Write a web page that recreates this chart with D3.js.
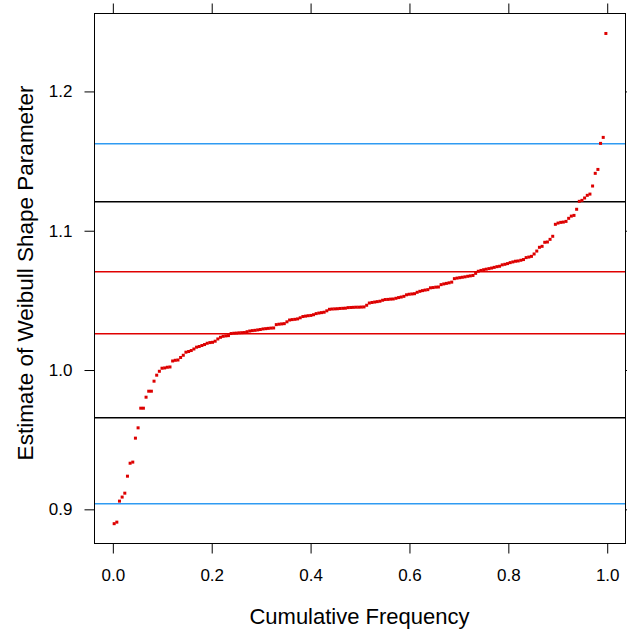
<!DOCTYPE html>
<html>
<head>
<meta charset="utf-8">
<script src="https://cdn.jsdelivr.net/npm/d3@7"></script>
<style>
  body { margin: 0; background: #fff; }
  text { font-family: "Liberation Sans", Arial, Helvetica, sans-serif; fill: #000; }
</style>
</head>
<body>
<div id="chart"><svg></svg></div>
<script>

// sorted estimates of the shape parameter (one per simulation run)
var estimates = [
  0.8897, 0.8908, 0.9059, 0.9088, 0.9116, 0.9238, 0.9331, 0.9339, 0.9511, 0.9585,
  0.9726, 0.9726, 0.9805, 0.9848, 0.9848, 0.9920, 0.9963, 0.9991, 1.0013, 1.0015,
  1.0020, 1.0022, 1.0065, 1.0070, 1.0072, 1.0090, 1.0106, 1.0128, 1.0133, 1.0140,
  1.0151, 1.0164, 1.0169, 1.0176, 1.0183, 1.0192, 1.0197, 1.0199, 1.0207, 1.0223,
  1.0235, 1.0242, 1.0245, 1.0247, 1.0262, 1.0264, 1.0265, 1.0267, 1.0268, 1.0269,
  1.0275, 1.0280, 1.0283, 1.0285, 1.0288, 1.0291, 1.0295, 1.0297, 1.0299, 1.0301,
  1.0302, 1.0326, 1.0329, 1.0331, 1.0333, 1.0346, 1.0359, 1.0362, 1.0364, 1.0367,
  1.0375, 1.0384, 1.0387, 1.0390, 1.0392, 1.0397, 1.0405, 1.0409, 1.0412, 1.0415,
  1.0425, 1.0436, 1.0438, 1.0439, 1.0440, 1.0442, 1.0443, 1.0444, 1.0448, 1.0449,
  1.0450, 1.0451, 1.0451, 1.0452, 1.0453, 1.0465, 1.0481, 1.0485, 1.0488, 1.0491,
  1.0494, 1.0501, 1.0506, 1.0507, 1.0509, 1.0510, 1.0515, 1.0520, 1.0524, 1.0529,
  1.0540, 1.0544, 1.0546, 1.0548, 1.0558, 1.0565, 1.0570, 1.0574, 1.0577, 1.0590,
  1.0592, 1.0595, 1.0596, 1.0613, 1.0618, 1.0622, 1.0626, 1.0631, 1.0656, 1.0660,
  1.0663, 1.0666, 1.0669, 1.0673, 1.0676, 1.0679, 1.0694, 1.0709, 1.0715, 1.0720,
  1.0724, 1.0728, 1.0732, 1.0737, 1.0742, 1.0745, 1.0755, 1.0759, 1.0764, 1.0771,
  1.0776, 1.0781, 1.0783, 1.0788, 1.0793, 1.0807, 1.0811, 1.0816, 1.0833, 1.0854,
  1.0881, 1.0888, 1.0917, 1.0919, 1.0938, 1.0960, 1.1046, 1.1055, 1.1060, 1.1062,
  1.1067, 1.1089, 1.1105, 1.1110, 1.1154, 1.1211, 1.1218, 1.1235, 1.1254, 1.1263,
  1.1321, 1.1412, 1.1440, 1.1627, 1.1670, 1.2416
];

// reference lines (lower, upper) for each pair
var redLines = [1.0264, 1.0711];
var blackLines = [0.9664, 1.1213];
var blueLines = [0.9044, 1.1629];

var xTicks = [0, 0.2, 0.4, 0.6, 0.8, 1.0];
var yTicks = [0.9, 1.0, 1.1, 1.2];

var width = 627, height = 633;
var pLeft = 94.5, pRight = 625.5, pTop = 13.5, pBottom = 543.5;

var svg = d3.select("#chart svg")
    .attr("width", width)
    .attr("height", height);

var x = d3.scaleLinear()
    .domain([-0.0371, 1.0370])
    .range([pLeft, pRight]);

var y = d3.scaleLinear()
    .domain([0.87547, 1.25594])
    .range([pBottom, pTop]);

var n = estimates.length;
var data = estimates.map(function(v, i) { return {p: (i + 0.5) / n, v: v}; });

// horizontal reference lines, drawn as thin filled bands so the colour stays crisp
function hlines(vals, color) {
    svg.append("g").selectAll("rect")
        .data(vals)
      .enter().append("rect")
        .attr("x", pLeft)
        .attr("width", pRight - pLeft)
        .attr("y", function(d) { return Math.round(y(d)); })
        .attr("height", 1.5)
        .style("fill", color)
        .style("stroke", "none");
}
hlines(blueLines, "#2f9bf2");
hlines(blackLines, "#000000");
hlines(redLines, "#e00000");

// points
svg.append("g").selectAll("rect")
    .data(data)
  .enter().append("rect")
    .attr("x", function(d) { return x(d.p) - 1.5; })
    .attr("y", function(d) { return y(d.v) - 1.5; })
    .attr("width", 3)
    .attr("height", 3)
    .style("fill", "#dd0000");

// axes, ticks on all four sides, labels on left and bottom
var fmt = d3.format(".1f");
var tk = 10;

svg.append("g")
    .attr("transform", "translate(0," + pBottom + ")")
    .call(d3.axisBottom(x).tickValues(xTicks).tickFormat(fmt).tickSize(tk).tickPadding(15))
    .call(function(g) { g.select(".domain").remove(); });

svg.append("g")
    .attr("transform", "translate(0," + pTop + ")")
    .call(d3.axisTop(x).tickValues(xTicks).tickFormat("").tickSize(tk))
    .call(function(g) { g.select(".domain").remove(); });

svg.append("g")
    .attr("transform", "translate(" + pLeft + ",0)")
    .call(d3.axisLeft(y).tickValues(yTicks).tickFormat(fmt).tickSize(tk).tickPadding(12))
    .call(function(g) { g.select(".domain").remove(); });

svg.append("g")
    .attr("transform", "translate(" + pRight + ",0)")
    .call(d3.axisRight(y).tickValues(yTicks).tickFormat("").tickSize(tk))
    .call(function(g) { g.select(".domain").remove(); });

svg.selectAll(".tick line").attr("stroke", "#000");
svg.selectAll(".tick text")
    .attr("font-size", 17)
    .style("font-family", "'Liberation Sans', Arial, sans-serif");

// panel box
svg.append("rect")
    .attr("x", pLeft).attr("y", pTop)
    .attr("width", pRight - pLeft).attr("height", pBottom - pTop)
    .style("fill", "none")
    .style("stroke", "#000");

// axis titles
svg.append("text")
    .attr("x", 359.5)
    .attr("y", 624)
    .attr("text-anchor", "middle")
    .attr("font-size", 22)
    .text("Cumulative Frequency");

svg.append("text")
    .attr("transform", "translate(33,273) rotate(-90)")
    .attr("text-anchor", "middle")
    .attr("font-size", 22.5)
    .text("Estimate of Weibull Shape Parameter");

</script>
</body>
</html>
